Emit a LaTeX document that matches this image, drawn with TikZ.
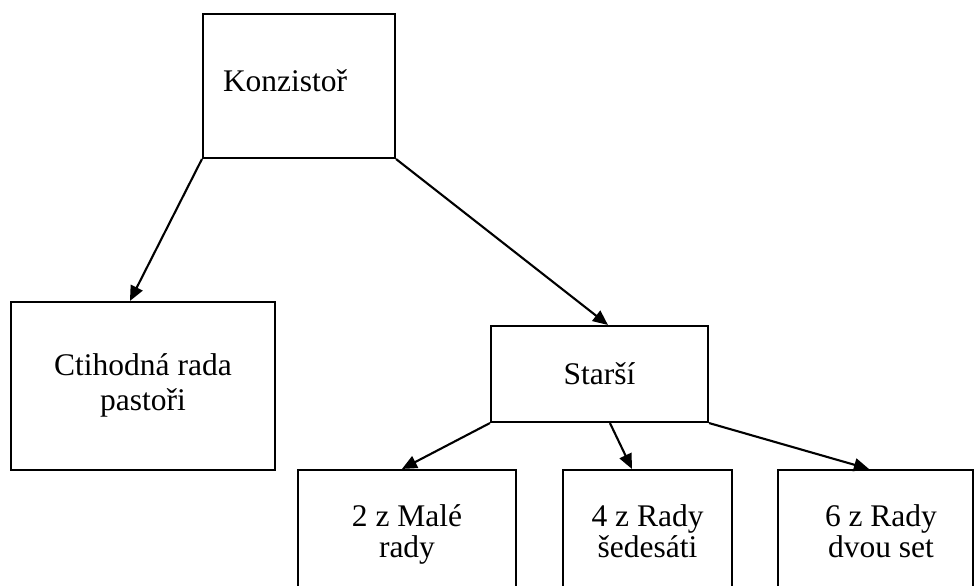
\documentclass[tikz,border=0pt]{standalone}
\usepackage{fontspec}
\setmainfont{Liberation Serif}
\usetikzlibrary{arrows.meta}
\newcommand\topstrut[1]{\rule{0pt}{#1}}
\newcommand\botstrut{\rule[-8pt]{0pt}{8pt}}
\begin{document}
\begin{tikzpicture}[x=1pt,y=-1pt,
  box/.style={draw,line width=2.1pt,rectangle,inner sep=0pt,align=center,
    font=\fontsize{31.5}{31}\selectfont},
  conn/.style={line width=2.1pt,-{Triangle[length=15pt,width=13pt]}}]
\clip (0,0) rectangle (974,586);
\fill[white] (0,0) rectangle (974,586);
\node[box,minimum width=192pt,minimum height=144pt,inner xsep=20pt,text width=152pt,
  align=left,text height=22pt,text depth=10pt] (konz) at (299,86) {Konzistoř};
\node[box,minimum width=264pt,minimum height=168pt,
  font=\fontsize{31.5}{35}\selectfont] (ctih) at (143,386)
  {\topstrut{20pt}Ctihodná rada\\pastoři\botstrut};
\node[box,minimum width=217pt,minimum height=96pt] (starsi) at (599.5,374) {Starší};
\node[box,minimum width=218pt,minimum height=128pt] (male) at (407,534)
  {\topstrut{24pt}2 z Malé\\rady\botstrut};
\node[box,minimum width=169pt,minimum height=128pt] (sed) at (647.5,534)
  {\topstrut{24pt}4 z Rady\\šedesáti\botstrut};
\node[box,minimum width=195pt,minimum height=128pt] (dvou) at (875.5,534)
  {\topstrut{24pt}\hspace*{11pt}6 z Rady\\\hspace*{11pt}dvou set\botstrut};
\draw[conn] (konz.south west) -- ([xshift=120pt]ctih.north west);
\draw[conn] (konz.south east) -- ([xshift=118pt]starsi.north west);
\draw[conn] (starsi.south west) -- ([xshift=105pt]male.north west);
\draw[conn] ([xshift=120pt]starsi.south west) -- ([xshift=70pt]sed.north west);
\draw[conn] (starsi.south east) -- ([xshift=92pt]dvou.north west);
\end{tikzpicture}
\end{document}
